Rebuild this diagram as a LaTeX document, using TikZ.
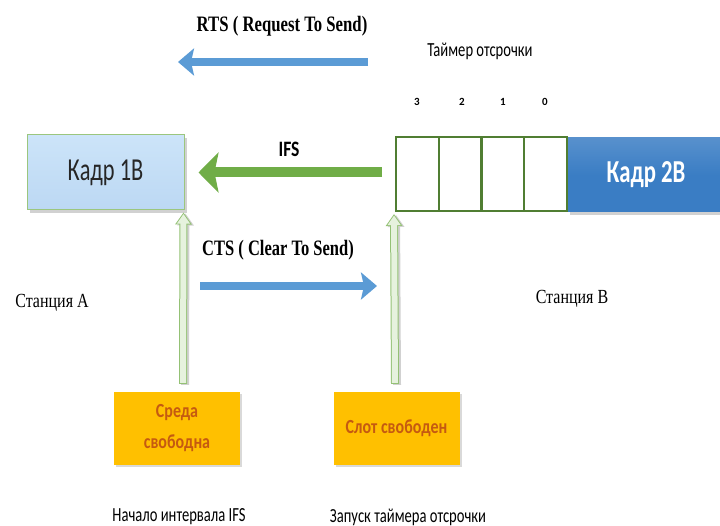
\documentclass[tikz,border=0pt]{standalone}
\usepackage{fontspec}
\setmainfont{Liberation Serif}
\newfontfamily\calfont{Carlito}
\usetikzlibrary{arrows.meta,shadows,calc}
\newcommand{\sqz}[2][0.73]{\scalebox{#1}[1]{#2}}
\definecolor{arrblue}{HTML}{5B9BD5}
\definecolor{arrgreen}{HTML}{70AD47}
\definecolor{slotgreen}{HTML}{507E32}
\definecolor{frameblue}{HTML}{3A7DC4}
\definecolor{lightbluetop}{HTML}{CCE4F9}
\definecolor{lightbluebot}{HTML}{BCD8F3}
\definecolor{orangebox}{HTML}{FFC000}
\definecolor{orangetext}{HTML}{C55A11}
\definecolor{palegreen}{HTML}{E6F2DE}
\begin{document}
\begin{tikzpicture}[x=1pt,y=-1pt,
  shadowed/.style={drop shadow={shadow xshift=3pt,shadow yshift=-3pt,opacity=0.3,fill=black!60}},
  frameone/.style={shadowed,draw=arrgreen!70!white,line width=1pt,top color=lightbluetop,bottom color=lightbluebot,
    minimum width=157pt,minimum height=75pt,inner sep=0pt,font=\calfont\fontsize{32}{36}\selectfont,text=black!85},
  frametwo/.style={shadowed,top color=frameblue!85!white,bottom color=frameblue,middle color=frameblue,minimum width=158pt,minimum height=74pt,inner sep=0pt,
    font=\calfont\bfseries\fontsize{32}{36}\selectfont,text=white},
  cell/.style={draw=slotgreen,line width=2pt,fill=white,minimum width=42.75pt,minimum height=74pt,inner sep=0pt},
  digit/.style={font=\calfont\bfseries\fontsize{11}{12}\selectfont,inner sep=0pt},
  statebox/.style={drop shadow={shadow xshift=2pt,shadow yshift=-2pt,opacity=0.25,fill=black!60},
    fill=orangebox,minimum width=126pt,minimum height=73pt,inner sep=0pt,align=center,
    font=\calfont\bfseries\fontsize{20}{31}\selectfont,text=orangetext},
  serifbold/.style={font=\bfseries\fontsize{22}{24}\selectfont,inner sep=0pt},
  seriflabel/.style={font=\fontsize{20}{22}\selectfont,inner sep=0pt},
  sanslabel/.style={font=\calfont\fontsize{20}{22}\selectfont,inner sep=0pt},
  bluearrow/.style={draw=arrblue,line width=8pt,-{Stealth[length=16pt,width=27pt,inset=3pt]}},
  greenarrow/.style={draw=arrgreen,line width=10pt,-{Stealth[length=20pt,width=40pt,inset=4pt]}},
  hollowout/.style={draw=arrgreen!75,line width=8pt,-{Triangle[length=12pt,width=16pt]}},
  hollowin/.style={draw=palegreen,line width=6pt,shorten >=1.6pt,shorten <=1pt,-{Triangle[length=9.5pt,width=12.5pt]}},
  hollowshadow/.style={draw=black!18,line width=8pt,-{Triangle[length=12pt,width=16pt]}}
]
\useasboundingbox (0,0) rectangle (720,526);

% frames
\node[frameone] (k1) at (105.5,172.5) {\sqz[0.70]{Кадр 1В}};
\node[frametwo] (k2) at (646,175) {\sqz[0.71]{Кадр 2В}};

% slot cells
\node[cell] (c3) at (417.4,174) {};
\node[cell] (c2) at (460.1,174) {};
\node[cell] (c1) at (502.9,174) {};
\node[cell] (c0) at (545.6,174) {};

% digits
\node[digit] (d3) at (417,102) {3};
\node[digit] (d2) at (462,102) {2};
\node[digit] (d1) at (503,102) {1};
\node[digit] (d0) at (545,102) {0};

\node[sanslabel] (timer) at (480,51) {\sqz{Таймер отсрочки}};

% RTS
\node[serifbold] (rts) at (282,26) {\sqz[0.76]{RTS ( Request To Send)}};
\coordinate (rtsA) at (368,62);
\coordinate (rtsB) at (178,62);
\draw[bluearrow] (rtsA) -- (rtsB);

% IFS
\node[font=\calfont\bfseries\fontsize{22}{24}\selectfont,inner sep=0pt] (ifs) at (289,149) {\sqz[0.8]{IFS}};
\draw[greenarrow] ([xshift=-13pt]c3.west |- k1.east) -- ([xshift=14pt]k1.east);

% CTS
\node[serifbold] (cts) at (278,250) {\sqz[0.75]{CTS ( Clear To Send)}};
\coordinate (ctsA) at (200,286);
\coordinate (ctsB) at (377,286);
\draw[bluearrow] (ctsA) -- (ctsB);

% stations
\node[seriflabel] (sa) at (52,303) {\sqz[0.8]{Станция А}};
\node[seriflabel] (sb) at (572,299) {\sqz[0.8]{Станция В}};

% state boxes
\node[statebox] (sreda) at (177,428.5) {\sqz[0.8]{Среда}\\\sqz[0.8]{свободна}};
\node[statebox] (slot) at (396.5,428.5) {\sqz[0.8]{Слот свободен}};

% hollow arrows
\draw[hollowshadow] ([shift={(8,-7)}]sreda.north) -- ([shift={(1,3)}]k1.south east);
\draw[hollowout] ([shift={(6,-8)}]sreda.north) -- ([shift={(-1,2)}]k1.south east);
\draw[hollowin] ([shift={(6,-8)}]sreda.north) -- ([shift={(-1,2)}]k1.south east);
\draw[hollowshadow] ([shift={(0.5,-7)}]slot.north) -- ([shift={(1,3)}]c3.south west);
\draw[hollowout] ([shift={(-1.5,-8)}]slot.north) -- ([shift={(-1,2)}]c3.south west);
\draw[hollowin] ([shift={(-1.5,-8)}]slot.north) -- ([shift={(-1,2)}]c3.south west);

% bottom captions
\node[sanslabel] (capA) at (179,517) {\sqz{Начало интервала IFS}};
\node[sanslabel] (capB) at (408,517) {\sqz{Запуск таймера отсрочки}};
\end{tikzpicture}
\end{document}
